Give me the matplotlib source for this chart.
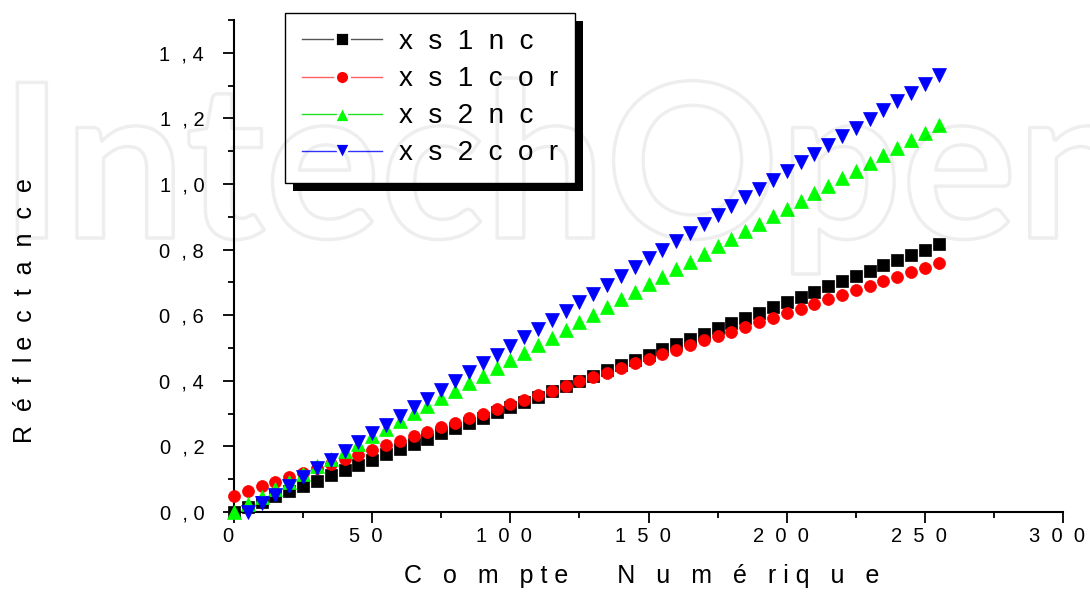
import matplotlib
matplotlib.use('Agg')
import matplotlib.pyplot as plt
import matplotlib.patheffects as pe
import matplotlib.transforms as mtransforms
from matplotlib.lines import Line2D
from matplotlib.patches import Rectangle
from matplotlib.ticker import FixedLocator, FixedFormatter, MultipleLocator

plt.rcParams['font.family'] = ['Liberation Sans', 'DejaVu Sans']

# compte numerique (axe x)
compte = [0, 5, 10, 15, 20, 25, 30, 35, 40, 45, 50, 55, 60, 65, 70, 75, 80, 85,
          90, 95, 100, 105, 110, 115, 120, 125, 130, 135, 140, 145, 150, 155,
          160, 165, 170, 175, 180, 185, 190, 195, 200, 205, 210, 215, 220, 225,
          230, 235, 240, 245, 250, 255]

# reflectances
xs1nc = [0.000, 0.016, 0.032, 0.048, 0.064, 0.080, 0.096, 0.112, 0.128, 0.144,
         0.160, 0.176, 0.192, 0.208, 0.224, 0.240, 0.256, 0.272, 0.288, 0.304,
         0.320, 0.336, 0.352, 0.368, 0.384, 0.400, 0.416, 0.432, 0.448, 0.464,
         0.480, 0.496, 0.512, 0.528, 0.544, 0.560, 0.576, 0.592, 0.608, 0.624,
         0.640, 0.656, 0.672, 0.688, 0.704, 0.720, 0.736, 0.752, 0.768, 0.784,
         0.800, 0.816]
xs1cor = [0.050, 0.064, 0.078, 0.092, 0.106, 0.120, 0.133, 0.147, 0.161, 0.175,
          0.189, 0.203, 0.217, 0.231, 0.245, 0.259, 0.272, 0.286, 0.300, 0.314,
          0.328, 0.342, 0.356, 0.370, 0.384, 0.398, 0.411, 0.425, 0.439, 0.453,
          0.467, 0.481, 0.495, 0.509, 0.523, 0.537, 0.550, 0.564, 0.578, 0.592,
          0.606, 0.620, 0.634, 0.648, 0.662, 0.676, 0.689, 0.703, 0.717, 0.731,
          0.745, 0.759]
xs2nc = [0.000, 0.023, 0.046, 0.069, 0.093, 0.116, 0.139, 0.162, 0.185, 0.208,
         0.231, 0.254, 0.278, 0.301, 0.324, 0.347, 0.370, 0.393, 0.416, 0.440,
         0.463, 0.486, 0.509, 0.532, 0.555, 0.578, 0.602, 0.625, 0.648, 0.671,
         0.694, 0.717, 0.740, 0.763, 0.787, 0.810, 0.833, 0.856, 0.879, 0.902,
         0.925, 0.949, 0.972, 0.995, 1.018, 1.041, 1.064, 1.087, 1.110, 1.134,
         1.157, 1.180]
# xs2cor commence a 5
xs2cor = [0.000, 0.027, 0.053, 0.080, 0.107, 0.133, 0.160, 0.186, 0.213,
          0.240, 0.266, 0.293, 0.320, 0.346, 0.373, 0.400, 0.426, 0.453, 0.480,
          0.506, 0.533, 0.559, 0.586, 0.613, 0.639, 0.666, 0.693, 0.719, 0.746,
          0.773, 0.799, 0.826, 0.852, 0.879, 0.906, 0.932, 0.959, 0.986, 1.012,
          1.039, 1.066, 1.092, 1.119, 1.146, 1.172, 1.199, 1.225, 1.252, 1.279,
          1.305, 1.332]

noms = ['x  s  1  n  c', 'x  s  1  c  o  r', 'x  s  2  n  c', 'x  s  2  c  o  r']

x_ticks = [0, 50, 100, 150, 200, 250, 300]
x_tick_labels = ['0', '5  0', '1  0  0', '1  5  0', '2  0  0', '2  5  0', '3  0  0']
y_ticks = [0.0, 0.2, 0.4, 0.6, 0.8, 1.0, 1.2, 1.4]
y_tick_labels = ['0  , 0', '0  , 2', '0  , 4', '0  , 6', '0  , 8', '1  , 0', '1  , 2', '1  , 4']

fig = plt.figure(figsize=(10.9, 5.96), dpi=100)
ax = fig.add_axes([0.2147, 0.1409, 0.7606, 0.8255])
ax.set_facecolor('none')

ax.plot(compte, xs1nc, 's', color='black', ms=8.8, mew=0.5, clip_on=False, zorder=3)
ax.plot(compte, xs1cor, 'o', color='#ff0000', ms=8.6, mew=0.5, clip_on=False, zorder=3)
ax.plot(compte, xs2nc, '^', color='#00ff00', ms=10, mew=0.5, clip_on=False, zorder=3)
ax.plot(compte[1:], xs2cor, 'v', color='#0000ff', ms=10, mew=0.5, clip_on=False, zorder=3)

ax.set_xlim(0, 300)
ax.set_ylim(0, 1.5)
for s in ['top', 'right']:
    ax.spines[s].set_visible(False)
for s in ['left', 'bottom']:
    ax.spines[s].set_linewidth(1.5)

ax.xaxis.set_major_locator(FixedLocator(x_ticks))
ax.xaxis.set_major_formatter(FixedFormatter(x_tick_labels))
ax.yaxis.set_major_locator(FixedLocator(y_ticks))
ax.yaxis.set_major_formatter(FixedFormatter(y_tick_labels))
ax.xaxis.set_minor_locator(MultipleLocator(25))
ax.yaxis.set_minor_locator(MultipleLocator(0.1))
ax.tick_params(which='major', direction='out', length=8, width=1.3, labelsize=14.5)
ax.tick_params(which='minor', direction='out', length=4, width=1.3)
ax.tick_params(axis='y', which='major', pad=13.5)
ax.tick_params(axis='x', which='major', pad=2.5)

ax.set_xlabel('C   o   m   p t e       N   u   m   é   r i q   u   e', fontsize=18)
ax.xaxis.set_label_coords(0.492, -0.105)
ax.set_ylabel('R  é  f  l e  c  t  a  n  c  e', fontsize=18)
ax.yaxis.set_label_coords(-0.2376, 0.41)

handles = [
    Line2D([], [], color='#555555', lw=1, marker='s', ms=9.5, mfc='black', mec='white', mew=2),
    Line2D([], [], color='#ff6060', lw=1, marker='o', ms=10, mfc='#ff0000', mec='white', mew=2),
    Line2D([], [], color='#20e020', lw=1, marker='^', ms=11, mfc='#00ff00', mec='white', mew=2),
    Line2D([], [], color='#3030ff', lw=1, marker='v', ms=11, mfc='#0000ff', mec='white', mew=2),
]
leg = ax.legend(handles, noms, loc='upper left', bbox_to_anchor=(285 / 1090, 1 - 12.5 / 596),
                bbox_transform=fig.transFigure, borderaxespad=0, fontsize=20,
                handlelength=2.9, handletextpad=0.62, labelspacing=0.4, borderpad=0.6,
                fancybox=False, edgecolor='black', framealpha=1, numpoints=1)
leg.get_frame().set_linewidth(1.0)

# filigrane
fig.text(0.0, 1 - 238 / 596, 'IntechOpen', fontsize=155, family='Lato', weight='bold',
         color='none', va='baseline', ha='left', zorder=10,
         path_effects=[pe.withStroke(linewidth=2.5, foreground=(0, 0, 0, 0.065))])

fig.canvas.draw()
offset = mtransforms.ScaledTranslation(-6 / 100, 0, fig.dpi_scale_trans)
for t in ax.xaxis.get_major_ticks():
    t.label1.set_transform(t.label1.get_transform() + offset)

bb = leg.get_frame().get_window_extent()
ombre = Rectangle((bb.x0 + 8, bb.y0 - 8), bb.width, bb.height, transform=mtransforms.IdentityTransform(),
                  facecolor='black', edgecolor='none', zorder=4.9, clip_on=False)
ax.add_artist(ombre)
ombre.set_clip_on(False)

fig.savefig('out.png', dpi=100)
